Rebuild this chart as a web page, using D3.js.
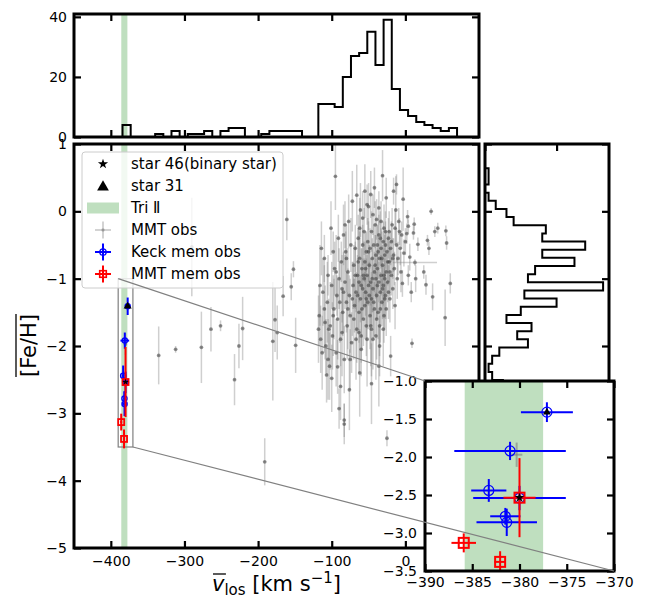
<!DOCTYPE html>
<html><head><meta charset="utf-8">
<script src="https://cdn.jsdelivr.net/npm/d3@7"></script>
<style>body{margin:0;background:#fff} text{font-family:"DejaVu Sans",sans-serif}</style>
</head><body><svg id="c" width="648" height="595"></svg>
<script>
// ---------------- data ----------------
const xTicks = [-400, -300, -200, -100, 0];
const yTicks = [1, 0, -1, -2, -3, -4, -5];
const topHistTicks = [0, 20, 40];
const rightHistTicks = [0, 20];
const insetXTicks = [-390, -385, -380, -375, -370];
const insetYTicks = [-1.0, -1.5, -2.0, -2.5, -3.0, -3.5];
const triIIBand = [-385.8, -377.5];
const zoomBox = { v: [-390, -370], fe: [-3.5, -1.0] };

// velocity histogram (top panel)
const vBinStart = -384.1, vBinWidth = 11.08;
const vHistCounts = [4,0,0,0,1,0,2,0,1,1,2,0,2,3,3,0,0,1,2,2,2,2,0,0,11,11,10,20,27,28,35,24,39,16,9,7,5,4,3,2,3];
// [Fe/H] histogram (right panel), bins from top down
const feBinTop = 0.64, feBinWidth = 0.121;
const feHistCounts = [1,1,0,1,3,6,8,17,16,28,16,25,14,12,33,11,20,10,6,13,9,12,4,2,1,2,5,3,2,1,2,1,1,0,1];

// MMT obs: v, [Fe/H], [Fe/H] err, v err
const mmtObs = [
[-335,-2.14,0.43,2],[-312,-2.05,0.05,2],[-290,-0.53,0.73,2],[-277,-2.02,0.53,2],
[-264,-1.75,0.33,2],[-251,-1.70,0.08,2],[-232,-2.50,0.38,2],[-226,-2.00,0.33,2],
[-221,-1.74,0.47,2],[-191,-3.72,0.35,2],[-180,-1.93,0.88,2],[-177,-1.61,0.48,2],
[-174,-1.80,0.40,2],[-166,-1.26,0.30,2],[-161,-0.12,0.31,2],[-155,-1.12,0.20,2],
[-152,-0.86,0.12,2],[-149,-1.99,0.41,2],[-380.3,-1.97,0.16,0.6],
[-118,-1.75,0.50,2],[-117,-1.55,0.45,2],[-115,-1.90,0.50,2],[-114,-0.55,0.40,2],[-113,-2.10,0.55,2],
[-112,-1.20,0.50,2],[-110,-0.70,0.35,2],[-109,-1.65,0.55,2],[-108,-2.00,0.40,2],[-107,-2.43,0.41,2],
[-106,-1.35,0.60,2],[-105,-0.95,0.30,2],[-104,-1.75,0.45,2],[-103,-2.30,0.50,2],[-101,-0.25,0.40,2],
[-100,-2.48,0.50,2],[-100,-1.10,0.35,2],[-99,-1.85,0.50,2],[-98,-0.60,0.30,2],[-97,-1.45,0.45,2],
[-96,-0.85,0.40,2],[-95,0.52,0.50,2],[-94,-2.10,0.50,2],[-93,-1.25,0.30,2],[-92,-2.31,0.40,2],
[-92,-1.60,0.60,2],[-91,-0.40,0.35,2],[-90,-2.93,0.30,2],[-90,-1.00,0.45,2],
[-88,-1.90,0.40,2],[-88,-2.60,0.50,2],[-87,-0.75,0.30,2],[-86,-1.15,0.50,2],[-85,-1.50,0.35,2],
[-84,-0.35,0.45,2],[-83,-3.10,0.25,2],[-83,-3.16,0.30,2],[-83,-2.20,0.50,2],[-82,-1.05,0.40,2],
[-82,-0.20,0.35,2],[-81,-0.60,0.30,2],[-80,-1.35,0.45,2],[-79,-1.70,0.50,2],[-78,-0.90,0.35,2],
[-77,-0.15,0.40,2],[-76,-1.25,0.30,2],[-75,-1.55,0.55,2],[-75,-2.20,0.45,2],[-74,-0.50,0.40,2],
[-73,-1.95,0.45,2],[-72,0.15,0.45,2],[-71,-1.10,0.35,2],[-70,-0.80,0.30,2],
[-69,-1.40,0.40,2],[-68,-0.55,0.35,2],[-67,-1.20,0.30,2],[-66,0.24,0.45,2],[-66,-1.75,0.50,2],
[-65,-0.95,0.30,2],[-64,-0.40,0.35,2],[-63,-1.50,0.45,2],[-63,-1.05,0.30,2],[-62,-0.70,0.40,2],
[-61,0.02,0.40,2],[-61,-1.30,0.35,2],[-60,-1.85,0.40,2],[-60,-2.05,0.40,2],[-59,-0.85,0.30,2],
[-58,-1.15,0.45,2],[-58,-0.50,0.30,2],[-57,-1.60,0.40,2],[-56,-0.30,0.35,2],[-56,-1.00,0.30,2],
[-55,-1.40,0.50,2],[-55,-0.75,0.30,2],
[-54,-1.20,0.35,2],[-53,-0.60,0.30,2],[-53,-1.70,0.45,2],[-52,0.10,0.30,2],[-52,-0.95,0.30,2],
[-51,-0.45,0.35,2],[-51,-1.35,0.40,2],[-50,0.07,0.35,2],[-50,-1.10,0.30,2],[-49,-0.80,0.30,2],
[-48,-1.55,0.50,2],[-48,-0.55,0.30,2],[-47,-1.05,0.35,2],[-46,-2.56,0.60,2],[-46,-0.30,0.30,2],
[-46,-1.30,0.40,2],[-45,-0.70,0.30,2],[-44,-0.05,0.30,2],[-44,-1.15,0.35,2],[-44,-1.90,0.45,2],
[-43,-0.50,0.30,2],[-42,-0.90,0.30,2],[-42,-1.45,0.40,2],[-41,-0.20,0.35,2],[-40,-1.00,0.30,2],
[-40,-0.65,0.30,2],
[-39,-0.12,0.30,2],[-39,-1.25,0.35,2],[-38,-0.85,0.30,2],[-38,-0.50,0.30,2],[-37,-1.50,0.40,2],
[-36,0.05,0.25,2],[-36,-1.05,0.30,2],[-36,-0.35,0.30,2],[-35,-0.70,0.30,2],[-35,-1.70,0.45,2],
[-35,-2.00,0.45,2],[-34,-1.20,0.30,2],[-33,-0.15,0.30,2],[-33,-0.55,0.30,2],[-33,-0.95,0.30,2],
[-32,-1.35,0.35,2],[-31,0.53,0.38,2],[-31,-0.80,0.30,2],[-30,-1.10,0.30,2],[-30,-0.45,0.30,2],
[-29,-1.55,0.40,2],[-28,-0.65,0.30,2],[-28,-1.00,0.30,2],[-27,-0.30,0.30,2],[-27,-1.25,0.35,2],
[-26,-0.90,0.30,2],[-26,-1.45,0.40,2],[-25,-0.60,0.30,2],[-25,-3.37,0.12,2],
[-24,-1.05,0.30,2],[-23,-0.40,0.30,2],[-22,-0.75,0.30,2],[-21,-1.30,0.35,2],[-20,-2.15,0.30,2],
[-20,-0.55,0.25,2],[-19,-0.95,0.30,2],[-18,-0.20,0.25,2],[-17,-1.15,0.30,2],[-16,-0.65,0.25,2],
[-15,-0.85,0.25,2],[-14,-1.40,0.35,2],[-13,0.02,0.50,2],[-12,-0.50,0.25,2],[-11,-1.00,0.30,2],
[-10,-0.70,0.25,2],
[-8,-0.30,0.20,2],[-6,-0.90,0.30,2],[-4,-1.07,0.20,2],[-3,0.18,0.47,2],[-2,-0.62,0.20,2],
[0,-0.45,0.20,2],[2,-0.33,0.15,2],[3,-0.08,0.10,2],[4,-0.22,0.10,2],[4,-0.95,0.15,2],
[6,-0.68,0.20,2],[8,-1.20,0.15,2],[9,-1.96,0.07,2],[11,-0.32,0.10,2],[12,-0.19,0.10,2],
[13,-0.76,0.05,30],[14,-1.00,0.20,2],
[17,-0.49,0.10,2],[25,-0.90,0.10,2],[28,-1.09,0.15,2],[30,-0.43,0.08,2],[32,-0.55,0.10,2],
[35,0.00,0.05,2],[37,-1.27,0.20,2],[40,-0.30,0.08,2],[44,-0.25,0.08,2],[54,-1.58,0.42,2],
[55,-0.29,0.08,2],[56,-0.47,0.10,2],[61,-1.07,0.15,2],
[-65,-1.25,0.55,2],[-64,-0.75,0.50,2],[-63,-1.80,0.60,2],[-62,-0.25,0.45,2],[-60,-1.10,0.55,2],
[-59,-1.45,0.60,2],[-57,-0.95,0.50,2],[-54,-0.85,0.55,2],[-53,-1.30,0.60,2],[-52,-1.90,0.70,2],
[-50,-0.60,0.45,2],[-49,-1.25,0.50,2],[-47,-1.70,0.60,2],[-45,-1.00,0.50,2],[-43,-1.35,0.55,2],
[-41,-0.80,0.45,2],[-39,-1.60,0.60,2],[-38,-1.10,0.50,2],[-37,-0.60,0.40,2],[-34,-0.40,0.40,2],
[-34,-1.45,0.50,2],[-32,-0.70,0.40,2],[-31,-1.15,0.45,2],[-29,-0.25,0.35,2],[-29,-0.95,0.40,2],
[-28,-1.30,0.45,2],[-27,-0.50,0.35,2],[-26,0.20,0.30,2],[-24,-0.75,0.35,2],[-23,-1.20,0.40,2],
[-22,-0.30,0.30,2],[-21,-0.90,0.35,2],[-19,-0.45,0.30,2],[-17,-0.70,0.30,2],[-16,0.30,0.20,2],
[-14,-0.25,0.25,2],[-12,0.40,0.15,2],[-9,-0.15,0.20,2],[-7,-0.55,0.25,2],[-5,-0.35,0.20,2],
[-58,-0.10,0.40,2],[-55,0.30,0.40,2],[-47,0.25,0.35,2],[-42,0.35,0.30,2],[-70,-1.60,0.60,2],
[-72,-1.30,0.55,2],[-68,-0.95,0.50,2],[-67,-1.90,0.60,2],[-78,-1.45,0.60,2],[-80,-0.70,0.50,2],
[-84,-1.20,0.60,2],[-86,-1.80,0.65,2],[-89,-1.35,0.60,2],[-94,-0.90,0.55,2],[-98,-1.55,0.60,2],
[-102,-1.70,0.65,2],[-105,-2.20,0.60,2],[-110,-1.45,0.65,2],[-116,-1.10,0.60,2],[-46,-1.75,0.70,2],
[-40,-1.85,0.65,2],[-36,-2.30,0.60,2],[-30,-1.75,0.55,2],[-62,-2.40,0.65,2],[-76,-2.65,0.60,2]
];
// Keck member obs: v, [Fe/H], [Fe/H] err, v err
const keckMem = [
[-377.1,-1.41,0.13,2.75],[-381.0,-1.92,0.12,5.9],[-383.25,-2.44,0.15,1.86],
[-380.0,-2.54,0.16,4.9],[-381.5,-2.78,0.11,1.6],[-381.35,-2.86,0.18,3.2]
];
// MMT member obs
const mmtMem = [
[-380.0,-2.535,0.52,1.7],[-385.9,-3.13,0.125,1.3],[-382.05,-3.38,0.14,0.6]
];
const star46 = [-380.0, -2.535];
const star31 = [-377.1, -1.41];
const legendLabels = ["star 46(binary star)", "star 31", "Tri \u2161", "MMT obs", "Keck mem obs", "MMT mem obs"];

// ---------------- layout ----------------
const svg = d3.select("#c");
const xMain = d3.scaleLinear().domain([-450, 100]).range([74, 479]);
const yMain = d3.scaleLinear().domain([-5, 1]).range([548, 144]);
const yTop = d3.scaleLinear().domain([0, 40.95]).range([137, 14]);
const xRight = d3.scaleLinear().domain([0, 34.65]).range([485, 609]);
const xIn = d3.scaleLinear().domain([-390, -370]).range([425, 614]);
const yIn = d3.scaleLinear().domain([-3.5, -1.0]).range([571, 381]);
const minus = s => String(s).replace("-", "\u2212");
const GREEN = "green", GOP = 0.25;

const defs = svg.append("defs");
function clip(id, x0, x1, y0, y1) {
  defs.append("clipPath").attr("id", id).append("rect")
    .attr("x", x0).attr("y", y0).attr("width", x1 - x0).attr("height", y1 - y0);
  return "url(#" + id + ")";
}
function styleAxis(g) {
  g.select(".domain").remove();
  g.selectAll(".tick line").attr("stroke", "#000").attr("stroke-width", 2.2);
  g.selectAll(".tick text").attr("fill", "#000").style("font-size", "14px");
}
function frame(x0, x1, y0, y1) {
  svg.append("rect").attr("x", x0).attr("y", y0).attr("width", x1 - x0).attr("height", y1 - y0)
    .attr("fill", "none").attr("stroke", "#000").attr("stroke-width", 3);
}
function errbars(g, data, xs, ys, color, opac, sw) {
  const gg = g.append("g").attr("stroke", color).attr("stroke-opacity", opac).attr("stroke-width", sw);
  data.forEach(d => {
    gg.append("line").attr("x1", xs(d[0])).attr("x2", xs(d[0])).attr("y1", ys(d[1] - d[2])).attr("y2", ys(d[1] + d[2]));
    gg.append("line").attr("x1", xs(d[0] - d[3])).attr("x2", xs(d[0] + d[3])).attr("y1", ys(d[1])).attr("y2", ys(d[1]));
  });
}

// ---------------- top histogram ----------------
const gTop = svg.append("g").attr("clip-path", clip("cTop", 74, 479, 14, 137));
gTop.append("rect").attr("x", xMain(triIIBand[0])).attr("width", xMain(triIIBand[1]) - xMain(triIIBand[0]))
  .attr("y", 14).attr("height", 123).attr("fill", GREEN).attr("opacity", GOP);
const topPts = [[vBinStart, 0]];
vHistCounts.forEach((c, i) => { const a = vBinStart + i * vBinWidth; topPts.push([a, c], [a + vBinWidth, c]); });
topPts.push([vBinStart + vHistCounts.length * vBinWidth, 0]);
gTop.append("path").attr("d", d3.line().x(d => xMain(d[0])).y(d => yTop(d[1]))(topPts))
  .attr("fill", "none").attr("stroke", "#000").attr("stroke-width", 2);
svg.append("g").attr("transform", "translate(74,0)").call(d3.axisLeft(yTop).tickValues(topHistTicks).tickSize(-7).tickPadding(7)).call(styleAxis);
svg.append("g").attr("transform", "translate(479,0)").call(d3.axisRight(yTop).tickValues(topHistTicks).tickSize(-7).tickFormat("")).call(styleAxis);
svg.append("g").attr("transform", "translate(0,137)").call(d3.axisBottom(xMain).tickValues(xTicks).tickSize(-7).tickFormat("")).call(styleAxis);
svg.append("g").attr("transform", "translate(0,14)").call(d3.axisTop(xMain).tickValues(xTicks).tickSize(-7).tickFormat("")).call(styleAxis);
frame(74, 479, 14, 137);

// ---------------- main panel ----------------
const gMain = svg.append("g").attr("clip-path", clip("cMain", 74, 479, 144, 548));
gMain.append("rect").attr("x", xMain(triIIBand[0])).attr("width", xMain(triIIBand[1]) - xMain(triIIBand[0]))
  .attr("y", 144).attr("height", 404).attr("fill", GREEN).attr("opacity", GOP);
errbars(gMain, mmtObs, xMain, yMain, "#808080", 0.38, 1.5);
gMain.append("g").selectAll("circle").data(mmtObs).join("circle")
  .attr("cx", d => xMain(d[0])).attr("cy", d => yMain(d[1])).attr("r", 1.9)
  .attr("fill", "#3a3a3a").attr("fill-opacity", 0.5);
// zoom rectangle
gMain.append("rect").attr("x", xMain(zoomBox.v[0])).attr("y", yMain(zoomBox.fe[1]))
  .attr("width", xMain(zoomBox.v[1]) - xMain(zoomBox.v[0])).attr("height", yMain(zoomBox.fe[0]) - yMain(zoomBox.fe[1]))
  .attr("fill", "none").attr("stroke", "#808080").attr("stroke-width", 1.2);
function members(g, xs, ys, big) {
  errbars(g, keckMem, xs, ys, "blue", 1, 2);
  g.append("g").selectAll("circle").data(keckMem).join("circle")
    .attr("cx", d => xs(d[0])).attr("cy", d => ys(d[1])).attr("r", big ? 5 : 2.6)
    .attr("fill", "none").attr("stroke", "blue").attr("stroke-width", big ? 1.2 : 1.3);
  errbars(g, mmtMem, xs, ys, "red", 1, 2);
  const sq = big ? 10 : 6;
  g.append("g").selectAll("rect").data(mmtMem).join("rect")
    .attr("x", d => xs(d[0]) - sq / 2).attr("y", d => ys(d[1]) - sq / 2).attr("width", sq).attr("height", sq)
    .attr("fill", "none").attr("stroke", "red").attr("stroke-width", big ? 2 : 1.8);
  g.append("path").attr("d", d3.symbol().type(d3.symbolStar).size(big ? 28 : 13)())
    .attr("transform", `translate(${xs(star46[0])},${ys(star46[1])})`).attr("fill", "#000");
  g.append("path").attr("d", d3.symbol().type(d3.symbolTriangle).size(big ? 26 : 28)())
    .attr("transform", `translate(${xs(star31[0])},${ys(star31[1])})`).attr("fill", "#000");
}
members(gMain, xMain, yMain, false);
svg.append("g").attr("transform", "translate(0,548)").call(d3.axisBottom(xMain).tickValues(xTicks).tickSize(-7).tickPadding(8).tickFormat(minus)).call(styleAxis);
svg.append("g").attr("transform", "translate(0,144)").call(d3.axisTop(xMain).tickValues(xTicks).tickSize(-7).tickFormat("")).call(styleAxis);
svg.append("g").attr("transform", "translate(74,0)").call(d3.axisLeft(yMain).tickValues(yTicks).tickSize(-7).tickPadding(7).tickFormat(minus)).call(styleAxis);
svg.append("g").attr("transform", "translate(479,0)").call(d3.axisRight(yMain).tickValues(yTicks).tickSize(-7).tickFormat("")).call(styleAxis);
frame(74, 479, 144, 548);

// legend
const lg = svg.append("g");
lg.append("rect").attr("x", 82).attr("y", 152).attr("width", 201).attr("height", 136).attr("rx", 3)
  .attr("fill", "#fff").attr("fill-opacity", 0.8).attr("stroke", "#cccccc").attr("stroke-width", 1);
const ly = i => 164 + i * 22, lx = 103;
legendLabels.forEach((t, i) => {
  lg.append("text").attr("x", 131).attr("y", ly(i)).attr("dy", "0.35em").style("font-size", "15px").attr("fill", "#000").text(t);
});
lg.append("path").attr("d", d3.symbol().type(d3.symbolStar).size(32)()).attr("transform", `translate(${lx},${ly(0)})`).attr("fill", "#000");
lg.append("path").attr("d", d3.symbol().type(d3.symbolTriangle).size(60)()).attr("transform", `translate(${lx},${ly(1) + 1})`).attr("fill", "#000");
lg.append("rect").attr("x", 87).attr("y", ly(2) - 5.5).attr("width", 32).attr("height", 11).attr("fill", GREEN).attr("opacity", GOP);
function legCross(i, color, op) {
  lg.append("line").attr("x1", lx - 8).attr("x2", lx + 8).attr("y1", ly(i)).attr("y2", ly(i)).attr("stroke", color).attr("stroke-opacity", op).attr("stroke-width", 2);
  lg.append("line").attr("x1", lx).attr("x2", lx).attr("y1", ly(i) - 8.5).attr("y2", ly(i) + 8.5).attr("stroke", color).attr("stroke-opacity", op).attr("stroke-width", 2);
}
legCross(3, "#808080", 0.35);
lg.append("circle").attr("cx", lx).attr("cy", ly(3)).attr("r", 1.8).attr("fill", "#404040").attr("fill-opacity", 0.25);
legCross(4, "blue", 1);
lg.append("circle").attr("cx", lx).attr("cy", ly(4)).attr("r", 3.2).attr("fill", "none").attr("stroke", "blue").attr("stroke-width", 1.3);
legCross(5, "red", 1);
lg.append("rect").attr("x", lx - 3.3).attr("y", ly(5) - 3.3).attr("width", 6.6).attr("height", 6.6).attr("fill", "none").attr("stroke", "red").attr("stroke-width", 1.6);

// axis labels
const xl = svg.append("text").attr("x", 276.5).attr("y", 591).attr("text-anchor", "middle").style("font-size", "21px").attr("fill", "#000");
xl.append("tspan").style("font-style", "italic").text("v");
xl.append("tspan").style("font-size", "15px").attr("dy", 4).text("los");
xl.append("tspan").attr("dy", -4).text(" [km s");
xl.append("tspan").style("font-size", "15px").attr("dy", -8).text("\u22121");
xl.append("tspan").attr("dy", 8).text("]");
{
  const n = xl.node();
  const s = n.getStartPositionOfChar(0), e = n.getEndPositionOfChar(0);
  svg.append("line").attr("x1", s.x + 1).attr("x2", e.x + 1.5).attr("y1", 574).attr("y2", 574).attr("stroke", "#000").attr("stroke-width", 1.3);
}
const ylg = svg.append("g").attr("transform", "translate(35.5,345.5) rotate(-90)");
const ylt = ylg.append("text").attr("text-anchor", "middle").style("font-size", "21px").attr("fill", "#000").text("[Fe/H]");
{
  const L = ylt.node().getComputedTextLength();
  ylg.append("line").attr("x1", -L / 2).attr("x2", L / 2).attr("y1", -19.5).attr("y2", -19.5).attr("stroke", "#000").attr("stroke-width", 1.3);
}

// ---------------- right histogram ----------------
const gR = svg.append("g").attr("clip-path", clip("cR", 485, 609, 144, 548));
const rPts = [[0, feBinTop]];
feHistCounts.forEach((c, i) => { const a = feBinTop - i * feBinWidth; rPts.push([c, a], [c, a - feBinWidth]); });
rPts.push([0, feBinTop - feHistCounts.length * feBinWidth]);
gR.append("path").attr("d", d3.line().x(d => xRight(d[0])).y(d => yMain(d[1]))(rPts))
  .attr("fill", "none").attr("stroke", "#000").attr("stroke-width", 2);
svg.append("g").attr("transform", "translate(485,0)").call(d3.axisLeft(yMain).tickValues(yTicks).tickSize(-7).tickFormat("")).call(styleAxis);
svg.append("g").attr("transform", "translate(609,0)").call(d3.axisRight(yMain).tickValues(yTicks).tickSize(-7).tickFormat("")).call(styleAxis);
svg.append("g").attr("transform", "translate(0,144)").call(d3.axisTop(xRight).tickValues(rightHistTicks).tickSize(-7).tickFormat("")).call(styleAxis);
svg.append("g").attr("transform", "translate(0,548)").call(d3.axisBottom(xRight).tickValues(rightHistTicks).tickSize(-7).tickFormat("")).call(styleAxis);
frame(485, 609, 144, 548);

// ---------------- inset ----------------
svg.append("rect").attr("x", 425).attr("y", 381).attr("width", 189).attr("height", 190).attr("fill", "#fff");
const gI = svg.append("g").attr("clip-path", clip("cI", 425, 614, 381, 571));
gI.append("rect").attr("x", xIn(triIIBand[0])).attr("width", xIn(triIIBand[1]) - xIn(triIIBand[0]))
  .attr("y", 381).attr("height", 190).attr("fill", GREEN).attr("opacity", GOP);
errbars(gI, mmtObs, xIn, yIn, "#808080", 0.6, 2);
members(gI, xIn, yIn, true);
svg.append("g").attr("transform", "translate(0,571)").call(d3.axisBottom(xIn).tickValues(insetXTicks).tickSize(-7).tickPadding(6).tickFormat(minus)).call(styleAxis);
svg.append("g").attr("transform", "translate(0,381)").call(d3.axisTop(xIn).tickValues(insetXTicks).tickSize(-7).tickFormat("")).call(styleAxis);
svg.append("g").attr("transform", "translate(425,0)").call(d3.axisLeft(yIn).tickValues(insetYTicks).tickSize(-7).tickPadding(8).tickFormat(d => minus(d3.format(".1f")(d)))).call(styleAxis);
svg.append("g").attr("transform", "translate(614,0)").call(d3.axisRight(yIn).tickValues(insetYTicks).tickSize(-7).tickFormat("")).call(styleAxis);
frame(425, 614, 381, 571);

// connectors
svg.append("line").attr("x1", xMain(zoomBox.v[0])).attr("y1", yMain(zoomBox.fe[1])).attr("x2", xIn(zoomBox.v[0])).attr("y2", yIn(zoomBox.fe[1]))
  .attr("stroke", "#808080").attr("stroke-width", 1.2);
svg.append("line").attr("x1", xMain(zoomBox.v[1])).attr("y1", yMain(zoomBox.fe[0])).attr("x2", xIn(zoomBox.v[1])).attr("y2", yIn(zoomBox.fe[0]))
  .attr("stroke", "#808080").attr("stroke-width", 1.2);
</script></body></html>
